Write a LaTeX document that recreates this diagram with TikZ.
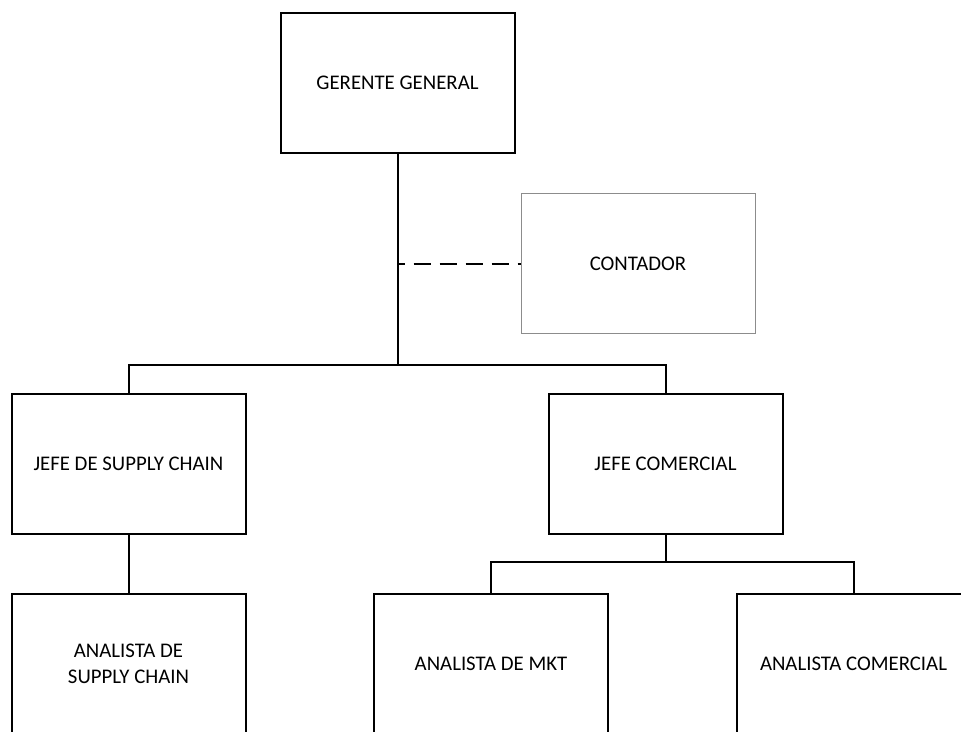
\documentclass[tikz,border=0pt]{standalone}
\usepackage{fontspec}
\setmainfont{Carlito}
\begin{document}
\begin{tikzpicture}[x=1pt,y=-1pt,
  box/.style={draw=black, line width=2pt, minimum width=234pt, minimum height=140pt,
    inner sep=0pt, outer sep=0pt, align=center, font=\fontsize{20.8}{26}\selectfont},
  thinbox/.style={box, draw=black!45, line width=1pt},
  conn/.style={draw=black, line width=2pt},
  dashconn/.style={conn, dash pattern=on 17pt off 9pt, dash phase=10pt}]
\useasboundingbox (0,0) rectangle (961,731);
\clip (0,0) rectangle (961,731);
\node[box] (gg) at (397.5,82.5) {GERENTE GENERAL};
\node[thinbox] (cont) at (638,263.5) {CONTADOR};
\node[box] (jsc) at (128.5,463.5) {JEFE DE SUPPLY CHAIN};
\node[box] (jc) at (665.5,463.5) {JEFE COMERCIAL};
\node[box] (asc) at (128.5,663.5) {ANALISTA DE\\SUPPLY CHAIN};
\node[box] (amkt) at (491,663.5) {ANALISTA DE MKT};
\node[box] (acom) at (853.5,663.5) {ANALISTA COMERCIAL};
\coordinate (bus1) at (397.5,365);
\coordinate (bus2) at (665.5,562);
\draw[conn] (gg.south) -- (bus1);
\draw[conn] (jsc.north) |- (bus1) -| (jc.north);
\draw[dashconn] (cont.west -| gg.south) -- (cont.west);
\draw[conn] (jsc.south) -- (asc.north);
\draw[conn] (jc.south) -- (bus2);
\draw[conn] (amkt.north) |- (bus2) -| (acom.north);
\end{tikzpicture}
\end{document}
